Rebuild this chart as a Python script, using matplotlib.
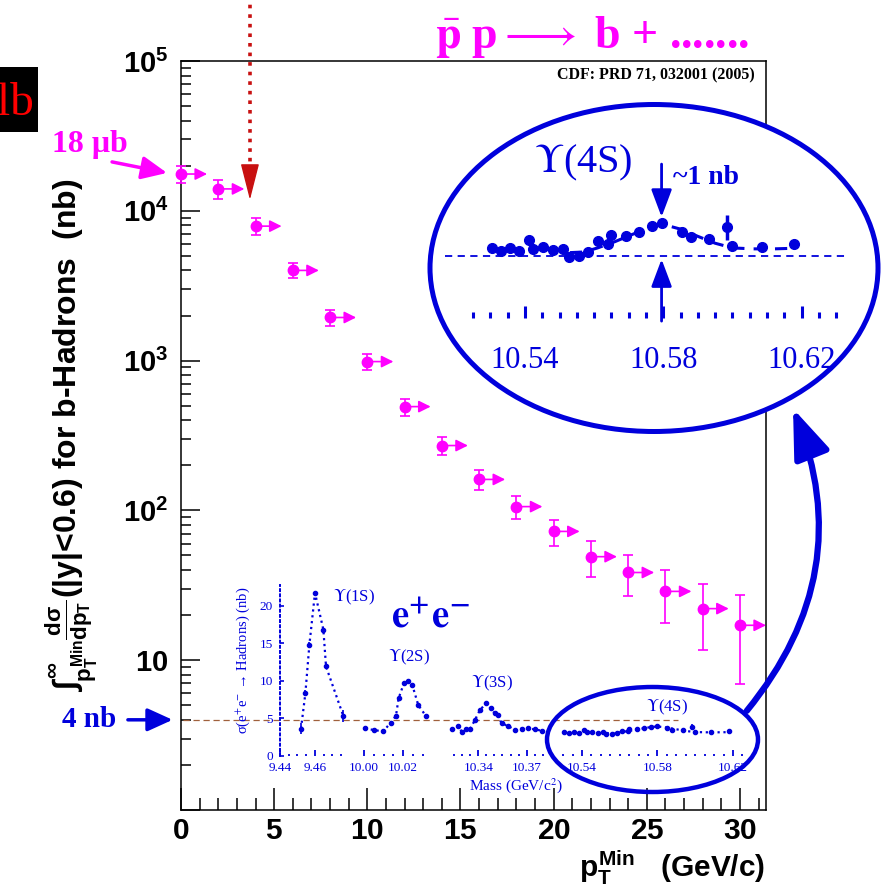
import numpy as np
import matplotlib.pyplot as plt
from matplotlib.patches import Ellipse, FancyArrowPatch, Rectangle
from matplotlib.ticker import (FixedLocator, FixedFormatter, MultipleLocator,
                               LogLocator, FuncFormatter, NullFormatter)

plt.rcParams['font.family'] = ['Liberation Sans', 'DejaVu Sans']
plt.rcParams['mathtext.fontset'] = 'custom'
plt.rcParams['mathtext.rm'] = 'Liberation Sans:bold'
plt.rcParams['mathtext.it'] = 'Liberation Sans:bold'
plt.rcParams['mathtext.bf'] = 'Liberation Sans:bold'

W, H = 894, 886
MAG = '#ff00ff'
BLUE = '#0000dc'
DRED = '#c81010'
BROWN = '#a0603c'
SERIF = ['Liberation Serif', 'DejaVu Serif']

# CDF b-hadron cross section integrated above pT_min (nb)
pt_min = [0, 2, 4, 6, 8, 10, 12, 14, 16, 18, 20, 22, 24, 26, 28, 30]
sigma_b = [17600, 14000, 7900, 4000, 1940, 985, 493, 271, 161, 106,
           72.4, 49.1, 38.5, 28.8, 22.1, 17.1]
sigma_b_err = [2300, 2000, 1000, 450, 240, 120, 65, 38, 25, 18,
               14.5, 13, 11.5, 11, 10.4, 10.2]

# e+e- -> hadrons scans (nb)
m_1s = [9.4520, 9.4545, 9.4568, 9.4600, 9.4648, 9.4663, 9.4762]
s_1s = [3.6, 8.3, 14.8, 21.7, 16.8, 11.9, 5.3]
e_1s = [0.7, 0.4, 0.4, 0.3, 0.4, 0.4, 0.8]

m_2s = [10.0005, 10.0051, 10.0098, 10.0136, 10.0163, 10.0176, 10.0203,
        10.0225, 10.0246, 10.0276, 10.0314]
s_2s = [3.64, 3.42, 3.24, 4.40, 5.33, 7.64, 9.64, 10.0, 9.42, 6.76, 5.33]
e_2s = [0.2] * 11

m_3s = [10.3234, 10.3276, 10.3297, 10.3323, 10.3348, 10.3379, 10.3410,
        10.3448, 10.3477, 10.3503, 10.3520, 10.3545, 10.3586, 10.3628,
        10.3669, 10.3710, 10.3752, 10.3793]
s_3s = [3.51, 3.96, 3.20, 3.51, 3.51, 4.76, 6.09, 6.98, 6.31, 5.64, 5.42,
        4.31, 3.96, 3.42, 3.60, 3.64, 3.51, 3.33]
e_3s = [0.15] * 18

m_4s = [10.5304, 10.5330, 10.5357, 10.5384, 10.5412, 10.5424, 10.5451,
        10.5482, 10.5509, 10.5528, 10.5557, 10.5583, 10.5612, 10.5641,
        10.5648, 10.5692, 10.5730, 10.5766, 10.5795, 10.5853, 10.5879,
        10.5933, 10.5985, 10.5998, 10.6085, 10.6178]
s_4s = [3.15, 3.04, 3.15, 3.04, 3.40, 3.11, 3.19, 3.08, 3.11, 2.85, 2.90,
        3.01, 3.36, 3.27, 3.56, 3.52, 3.67, 3.86, 3.94, 3.67, 3.49, 3.43,
        3.81, 3.22, 3.19, 3.27]
e_4s = [0.08] * 22 + [0.4] + [0.08] * 3
fit_m = [10.553, 10.557, 10.561, 10.566, 10.571, 10.576, 10.580, 10.585,
         10.590, 10.595, 10.600, 10.606, 10.612, 10.618]
fit_s = [3.00, 3.02, 3.15, 3.35, 3.58, 3.80, 3.90, 3.75, 3.52, 3.30, 3.15,
         3.12, 3.12, 3.14]
base_4s = 2.9


def rect(x0, y0, x1, y1):
    return [x0 / W, 1 - y1 / H, (x1 - x0) / W, (y1 - y0) / H]


def fpt(x, y):
    return (x / W, 1 - y / H)


fig = plt.figure(figsize=(W / 100, H / 100), dpi=100)

# ---------------- main plot ----------------
ax = fig.add_axes(rect(181, 61, 766, 810))
ax.set_yscale('log')
ax.set_xlim(0, 31.4)
ax.set_ylim(1, 1e5)
for sp in ax.spines.values():
    sp.set_linewidth(1.1)

ax.yaxis.set_major_locator(FixedLocator([1, 10, 100, 1e3, 1e4, 1e5]))
ax.yaxis.set_minor_locator(LogLocator(base=10, subs=np.arange(2, 10), numticks=20))
ax.yaxis.set_minor_formatter(NullFormatter())


def ylab(v, pos):
    if v < 5:
        return ''
    if v < 50:
        return r'$10$'
    return r'$10^{%d}$' % round(np.log10(v))


ax.yaxis.set_major_formatter(FuncFormatter(ylab))
ax.xaxis.set_major_locator(MultipleLocator(5))
ax.xaxis.set_minor_locator(MultipleLocator(1))
ax.xaxis.set_major_formatter(FuncFormatter(lambda v, p: r'$%d$' % v))
ax.tick_params(which='both', direction='in', top=False, right=False, width=1.1)
ax.tick_params(axis='y', which='major', length=14, pad=9, labelsize=21)
ax.tick_params(axis='y', which='minor', length=7)
ax.tick_params(axis='x', which='major', length=16, pad=5, labelsize=21.5)
ax.tick_params(axis='x', which='minor', length=8.5)

ax.errorbar(pt_min, sigma_b, yerr=sigma_b_err, fmt='o', color=MAG, ms=7.5,
            capsize=3.5, elinewidth=1.2, capthick=1.2, clip_on=False, zorder=4)
for x, y in zip(pt_min, sigma_b):
    ax.annotate('', xy=(x + 1.4, y), xytext=(x, y), annotation_clip=False,
                arrowprops=dict(arrowstyle='-|>,head_length=0.6,head_width=0.3',
                                mutation_scale=12, color=MAG, lw=1.2,
                                shrinkA=0, shrinkB=0))

# 4 nb reference line
ax.hlines(4, 0.1, 26.7, colors=BROWN, linestyles=(0, (5, 3)), lw=0.9)
ax.text(-3.5, 4, '4 nb', ha='right', va='center', fontsize=21,
        fontweight='bold', family=SERIF, color=BLUE)
ax.annotate('', xy=(-0.45, 4), xytext=(-2.85, 4), annotation_clip=False,
            arrowprops=dict(arrowstyle='-|>,head_length=1.1,head_width=0.5',
                            mutation_scale=14, color=BLUE, lw=2.5,
                            shrinkA=0, shrinkB=0))

# 18 mub marker
ax.text(-4.9, 27500, '18 μb', ha='center', va='center', fontsize=23,
        fontweight='bold', family=SERIF, color=MAG)
ax.annotate('', xy=(-0.75, 17900), xytext=(-3.7, 21200), annotation_clip=False,
            arrowprops=dict(arrowstyle='-|>,head_length=1.1,head_width=0.5',
                            mutation_scale=14, color=MAG, lw=2.5,
                            shrinkA=0, shrinkB=0))

# red dotted arrow from above
ax.plot([3.7, 3.7], [18500, 2.6e5], ls=':', lw=2.6, color=DRED, clip_on=False)
ax.annotate('', xy=(3.7, 11840), xytext=(3.7, 19650), annotation_clip=False,
            arrowprops=dict(arrowstyle='-|>,head_length=1.65,head_width=0.42',
                            mutation_scale=14, color=DRED, lw=1,
                            shrinkA=0, shrinkB=0))

ylabel_txt = (r'$\int_{p_{T}^{Min}}^{\infty}\frac{d\sigma}{dp_{T}}$'
              '(|y|<0.6) for b-Hadrons  (nb)')
fig.text(72 / W, 1 - 435 / H, ylabel_txt, rotation=90, fontsize=23,
         fontweight='bold', ha='center', va='center')
fig.text(765 / W, 1 - 868 / H, r'$p_{T}^{Min}$   (GeV/c)', fontsize=21.5,
         fontweight='bold', ha='right', va='center')

fig.text(755 / W, 1 - 75 / H, 'CDF: PRD 71, 032001 (2005)', ha='right',
         va='center', fontsize=11.5, fontweight='bold', family=SERIF)
fig.text(435 / W, 1 - 48 / H, r'$\bar{\mathbf{p}}$ p$\longrightarrow$ b + .......',
         ha='left', va='baseline', fontsize=33, fontweight='bold', family=SERIF,
         color=MAG, math_fontfamily='stix')

# clipped label at top-left
fig.add_artist(Rectangle(fpt(0, 132), 38 / W, 65 / H, transform=fig.transFigure,
                         facecolor='black', edgecolor='none'))
fig.text(34 / W, 1 - 115 / H, 'lb', ha='right', va='baseline', fontsize=34,
         family=SERIF, color='#ff0000')

# ---------------- e+e- inset (broken axis) ----------------


def seg_axes(x0, x1, xlim, majors, labels):
    a = fig.add_axes(rect(x0, 585, x1, 755.7))
    a.set_xlim(*xlim)
    a.set_ylim(0, 22.76)
    a.patch.set_visible(False)
    for sp in a.spines.values():
        sp.set_visible(False)
    a.xaxis.set_major_locator(FixedLocator(majors))
    a.xaxis.set_major_formatter(FixedFormatter(labels))
    a.xaxis.set_minor_locator(MultipleLocator(0.005))
    a.tick_params(axis='x', which='both', direction='in', colors=BLUE, width=1.3,
                  pad=4.5, labelsize=9.5, labelfontfamily='Liberation Serif')
    a.tick_params(axis='x', which='major', length=4.5)
    a.tick_params(axis='x', which='minor', length=1.5)
    a.set_yticks([])
    return a


def scan(a, m, s, e, line_m=None, line_s=None):
    a.errorbar(m, s, yerr=e, fmt='o', ms=3, color=BLUE, elinewidth=1.2,
               capsize=0, clip_on=False)
    if line_m is None:
        line_m, line_s = m, s
    a.plot(line_m, line_s, ls=':', lw=1.6, color=BLUE)


s1 = seg_axes(280, 347, (9.44, 9.4783), [9.44, 9.46], ['9.44', '9.46'])
s1.spines['left'].set_visible(True)
s1.spines['left'].set_color(BLUE)
s1.spines['left'].set_linestyle(':')
s1.spines['left'].set_linewidth(1.4)
s1.set_yticks([0, 5, 10, 15, 20])
s1.tick_params(axis='y', direction='in', colors=BLUE, length=3, width=1.2,
               pad=5, labelsize=9.5, labelfontfamily='Liberation Serif')
scan(s1, m_1s, s_1s, e_1s)

s2 = seg_axes(360, 432, (9.998, 10.0346), [10.00, 10.02], ['10.00', '10.02'])
scan(s2, m_2s, s_2s, e_2s)

s3 = seg_axes(449, 545, (10.3218, 10.3814), [10.34, 10.37], ['10.34', '10.37'])
scan(s3, m_3s, s_3s, e_3s)

s4 = seg_axes(560, 745, (10.5283, 10.6264), [10.54, 10.58, 10.62],
              ['10.54', '10.58', '10.62'])
scan(s4, m_4s, s_4s, e_4s, fit_m, fit_s)

for lab, (x, y) in [(r'$\Upsilon$(1S)', (354, 597)), (r'$\Upsilon$(2S)', (409, 657)),
                    (r'$\Upsilon$(3S)', (492, 683)), (r'$\Upsilon$(4S)', (667, 707))]:
    fig.text(x / W, 1 - y / H, lab, ha='center', va='center', fontsize=12,
             family=SERIF, color=BLUE, math_fontfamily='stix')
fig.text(243 / W, 1 - 660 / H, r'σ(e$^{+}$e$^{-}$ → Hadrons) (nb)', rotation=90,
         ha='center', va='center', fontsize=10.5, family=SERIF, color=BLUE,
         math_fontfamily='stix')
fig.text(516 / W, 1 - 786 / H, r'Mass (GeV/c$^{2}$)', ha='center', va='center',
         fontsize=11, family=SERIF, color=BLUE, math_fontfamily='stix')
fig.text(430 / W, 1 - 617 / H, r'$\mathbf{e^{+}e^{-}}$', ha='center', va='center',
         fontsize=28, color=BLUE, math_fontfamily='stix')

fig.add_artist(Ellipse(fpt(652.5, 739.5), 211 / W, 105 / H,
                       transform=fig.transFigure, facecolor='none',
                       edgecolor=BLUE, lw=3.2, zorder=2))

# ---------------- Upsilon(4S) blow-up ----------------
fig.add_artist(Ellipse(fpt(654, 268), 448 / W, 327 / H,
                       transform=fig.transFigure, facecolor='white',
                       edgecolor=BLUE, lw=3.6, zorder=1))

blow = fig.add_axes(rect(470, 130, 840, 318), zorder=2)
blow.set_xlim(10.5241, 10.6311)
blow.set_ylim(0.91, 6.92)
blow.patch.set_visible(False)
for sp in blow.spines.values():
    sp.set_visible(False)
blow.xaxis.set_major_locator(FixedLocator([10.54, 10.58, 10.62]))
blow.xaxis.set_major_formatter(FixedFormatter(['10.54', '10.58', '10.62']))
blow.xaxis.set_minor_locator(MultipleLocator(0.005))
blow.tick_params(axis='x', which='both', direction='in', colors=BLUE, width=2.2,
                 pad=20, labelsize=22, labelfontfamily='Liberation Serif')
blow.tick_params(axis='x', which='major', length=9)
blow.tick_params(axis='x', which='minor', length=4)
blow.set_yticks([])

blow.hlines(base_4s, 10.5169, 10.6331, colors=BLUE, linestyles=(0, (4, 3)),
            lw=1.3, clip_on=False)
blow.plot(fit_m, fit_s, ls=(0, (4, 3)), lw=2.2, color=BLUE)
blow.errorbar(m_4s, s_4s, yerr=e_4s, fmt='o', ms=7, color=BLUE,
              elinewidth=2.5, capsize=0)
blow.annotate('', xy=(10.5795, 4.14), xytext=(10.5795, 5.83), annotation_clip=False,
              arrowprops=dict(arrowstyle='-|>,head_length=1.2,head_width=0.45',
                              mutation_scale=14, color=BLUE, lw=2,
                              shrinkA=0, shrinkB=0))
blow.annotate('', xy=(10.5795, 2.79), xytext=(10.5795, 0.81), annotation_clip=False,
              arrowprops=dict(arrowstyle='-|>,head_length=1.2,head_width=0.45',
                              mutation_scale=14, color=BLUE, lw=2,
                              shrinkA=0, shrinkB=0))

fig.text(583 / W, 1 - 163 / H, r'$\Upsilon$(4S)', ha='center', va='center',
         fontsize=29, family=SERIF, color=BLUE, math_fontfamily='stix', zorder=4)
fig.text(673 / W, 1 - 177 / H, '~1 nb', ha='left', va='center', fontsize=20,
         fontweight='bold', family=SERIF, color=BLUE, zorder=4)

# curved arrow linking the two ellipses
fig.add_artist(FancyArrowPatch(fpt(745, 713), fpt(792, 406),
                               transform=fig.transFigure,
                               connectionstyle='arc3,rad=0.3',
                               arrowstyle='-|>,head_length=2.0,head_width=0.75',
                               mutation_scale=15, color=BLUE, lw=4.5, zorder=3))

fig.savefig('out.png', dpi=100)
